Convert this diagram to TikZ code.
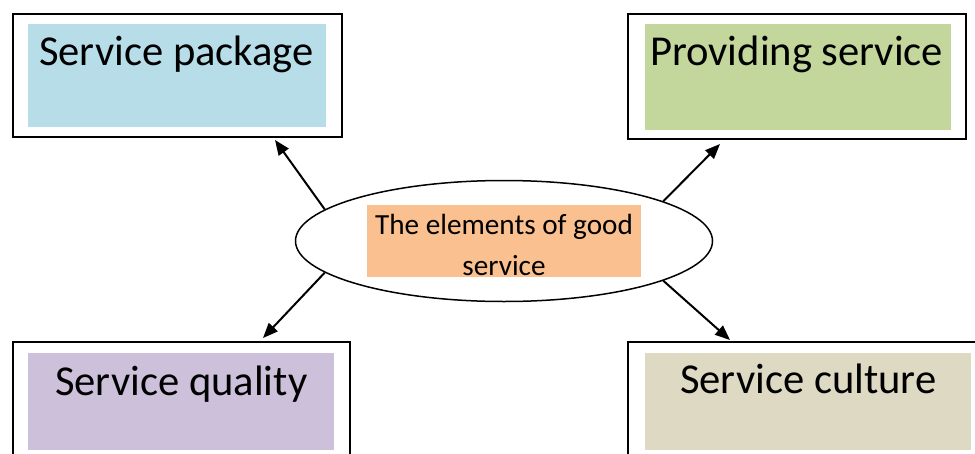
\documentclass[tikz,border=0pt]{standalone}
\usepackage{fontspec}
\setmainfont{Carlito}
\usetikzlibrary{shapes.geometric,arrows.meta}
\definecolor{cblue}{HTML}{B7DDE8}
\definecolor{cgreen}{HTML}{C3D69B}
\definecolor{cpurple}{HTML}{CCC0DA}
\definecolor{cbeige}{HTML}{DDD9C3}
\definecolor{corange}{HTML}{FAC090}
\tikzset{
  outerbox/.style={draw=black, line width=2pt, rectangle, inner sep=0pt},
  fillbox/.style={rectangle, inner sep=0pt, draw=none},
  boxtext/.style={anchor=base west, inner sep=0pt, font=\fontsize{42.6}{50}\selectfont},
  arr/.style={line width=2pt, -{Triangle[length=15pt,width=12pt]}},
}
\begin{document}
\begin{tikzpicture}[x=1pt,y=-1pt]
\useasboundingbox (0,0) rectangle (975,453);
\clip (0,0) rectangle (975,453);
% top-left
\node[outerbox, minimum width=329pt, minimum height=123pt] (box1) at (177,75) {};
\node[fillbox, fill=cblue, minimum width=298pt, minimum height=103pt] (fill1) at (177,75.5) {};
\node[boxtext] (t1) at (39,65) {Service package};
% top-right
\node[outerbox, minimum width=338pt, minimum height=125pt] (box2) at (797,76.5) {};
\node[fillbox, fill=cgreen, minimum width=306pt, minimum height=106pt] (fill2) at (798,77) {};
\node[boxtext] (t2) at (650,65) {Providing service};
% bottom-left
\node[outerbox, minimum width=337pt, minimum height=128pt] (box3) at (181,406) {};
\node[fillbox, fill=cpurple, minimum width=306pt, minimum height=97pt] (fill3) at (181,401.5) {};
\node[boxtext] (t3) at (55,395) {Service quality};
% bottom-right
\node[outerbox, minimum width=362pt, minimum height=128pt] (box4) at (809,406) {};
\node[fillbox, fill=cbeige, minimum width=326pt, minimum height=97pt] (fill4) at (808,401.5) {};
\node[boxtext] (t4) at (680,393) {Service culture};
% center ellipse
\node[ellipse, draw=black, line width=1.5pt, minimum width=417pt, minimum height=121pt, inner sep=0pt] (ell) at (504,241) {};
\node[fillbox, fill=corange, minimum width=274pt, minimum height=72pt] (cfill) at (504,241) {};
\node[align=center, inner sep=0pt, font=\fontsize{29.2}{41}\selectfont] (ctext) at (504,245) {The elements of good\\service};
% arrow ends
\coordinate (e1) at (275,140);
\coordinate (e2) at (720,144);
\coordinate (e3) at (263,338);
\coordinate (e4) at (730,340);
\draw[arr] (ell.170) -- (e1);
\draw[arr] (ell.14) -- (e2);
\draw[arr] (ell.190) -- (e3);
\draw[arr] (ell.346) -- (e4);
\end{tikzpicture}
\end{document}
